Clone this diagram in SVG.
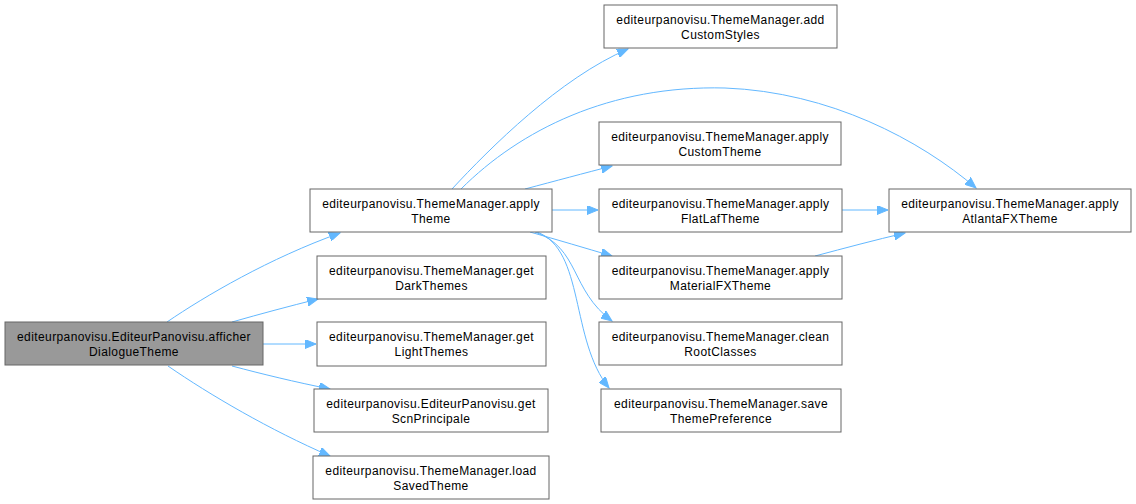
<svg xmlns="http://www.w3.org/2000/svg" width="1136" height="504" viewBox="0 0 1136 504">
<style>
.n rect{fill:#ffffff;stroke:#666666;stroke-width:1}
.n.root rect{fill:#999999}
.n text{font-family:"Liberation Sans",Arial,sans-serif;font-size:12px;letter-spacing:0.4px;fill:#000000;text-anchor:middle}
.e path{fill:none;stroke:#63b8ff;stroke-width:1;marker-end:url(#ah)}
</style>
<defs>
<marker id="ah" markerUnits="userSpaceOnUse" markerWidth="12" markerHeight="9" refX="11" refY="4.5" orient="auto">
<path d="M0,0 L11,4.5 L0,9 z" fill="#63b8ff" stroke="#63b8ff" stroke-width="1"/>
</marker>
</defs>
<rect width="1136" height="504" fill="#ffffff"/>
<g id="edges" class="e">
<path d="M167,322 C205,296 270,258 340,233"/>
<path d="M232,322 C260,314 290,306 318,299"/>
<path d="M263,344 L316,344"/>
<path d="M232,366 C262,374 295,382 330,389"/>
<path d="M168,366 C210,395 270,430 330,456"/>
<path d="M452,189 C490,148 560,78 628,49"/>
<path d="M461,189 C520,130 610,85 725,88 C830,92 920,140 976,188"/>
<path d="M525,189 C555,181 585,173 612,166"/>
<path d="M552,210 L598,210"/>
<path d="M530,232 C558,240 585,248 612,256"/>
<path d="M535,232 C580,248 570,290 612,321"/>
<path d="M537,232 C585,250 570,340 609,388"/>
<path d="M842,210 L888,210"/>
<path d="M815,256 C845,248 875,240 905,233"/>
</g>
<g id="afficherDialogueTheme" class="n root"><rect x="5" y="322" width="258" height="43"/><text x="134" y="341">editeurpanovisu.EditeurPanovisu.afficher</text><text x="134" y="356">DialogueTheme</text></g>
<g id="applyTheme" class="n"><rect x="310" y="189" width="242" height="43"/><text x="431" y="208">editeurpanovisu.ThemeManager.apply</text><text x="431" y="223">Theme</text></g>
<g id="getDarkThemes" class="n"><rect x="317" y="256" width="229" height="43"/><text x="431.5" y="275">editeurpanovisu.ThemeManager.get</text><text x="431.5" y="290">DarkThemes</text></g>
<g id="getLightThemes" class="n"><rect x="317" y="322" width="229" height="44"/><text x="431.5" y="341">editeurpanovisu.ThemeManager.get</text><text x="431.5" y="356">LightThemes</text></g>
<g id="getScnPrincipale" class="n"><rect x="314" y="389" width="234" height="43"/><text x="431" y="408">editeurpanovisu.EditeurPanovisu.get</text><text x="431" y="423">ScnPrincipale</text></g>
<g id="loadSavedTheme" class="n"><rect x="313" y="456" width="236" height="43"/><text x="431" y="475">editeurpanovisu.ThemeManager.load</text><text x="431" y="490">SavedTheme</text></g>
<g id="addCustomStyles" class="n"><rect x="604" y="5" width="233" height="43"/><text x="720.5" y="24">editeurpanovisu.ThemeManager.add</text><text x="720.5" y="39">CustomStyles</text></g>
<g id="applyCustomTheme" class="n"><rect x="599" y="122" width="242" height="43"/><text x="720" y="141">editeurpanovisu.ThemeManager.apply</text><text x="720" y="156">CustomTheme</text></g>
<g id="applyFlatLafTheme" class="n"><rect x="599" y="189" width="243" height="43"/><text x="720.5" y="208">editeurpanovisu.ThemeManager.apply</text><text x="720.5" y="223">FlatLafTheme</text></g>
<g id="applyMaterialFXTheme" class="n"><rect x="599" y="256" width="243" height="43"/><text x="720.5" y="275">editeurpanovisu.ThemeManager.apply</text><text x="720.5" y="290">MaterialFXTheme</text></g>
<g id="cleanRootClasses" class="n"><rect x="599" y="322" width="243" height="43"/><text x="720.5" y="341">editeurpanovisu.ThemeManager.clean</text><text x="720.5" y="356">RootClasses</text></g>
<g id="saveThemePreference" class="n"><rect x="601" y="389" width="240" height="43"/><text x="721" y="408">editeurpanovisu.ThemeManager.save</text><text x="721" y="423">ThemePreference</text></g>
<g id="applyAtlantaFXTheme" class="n"><rect x="889" y="189" width="242" height="43"/><text x="1010" y="208">editeurpanovisu.ThemeManager.apply</text><text x="1010" y="223">AtlantaFXTheme</text></g>
</svg>
